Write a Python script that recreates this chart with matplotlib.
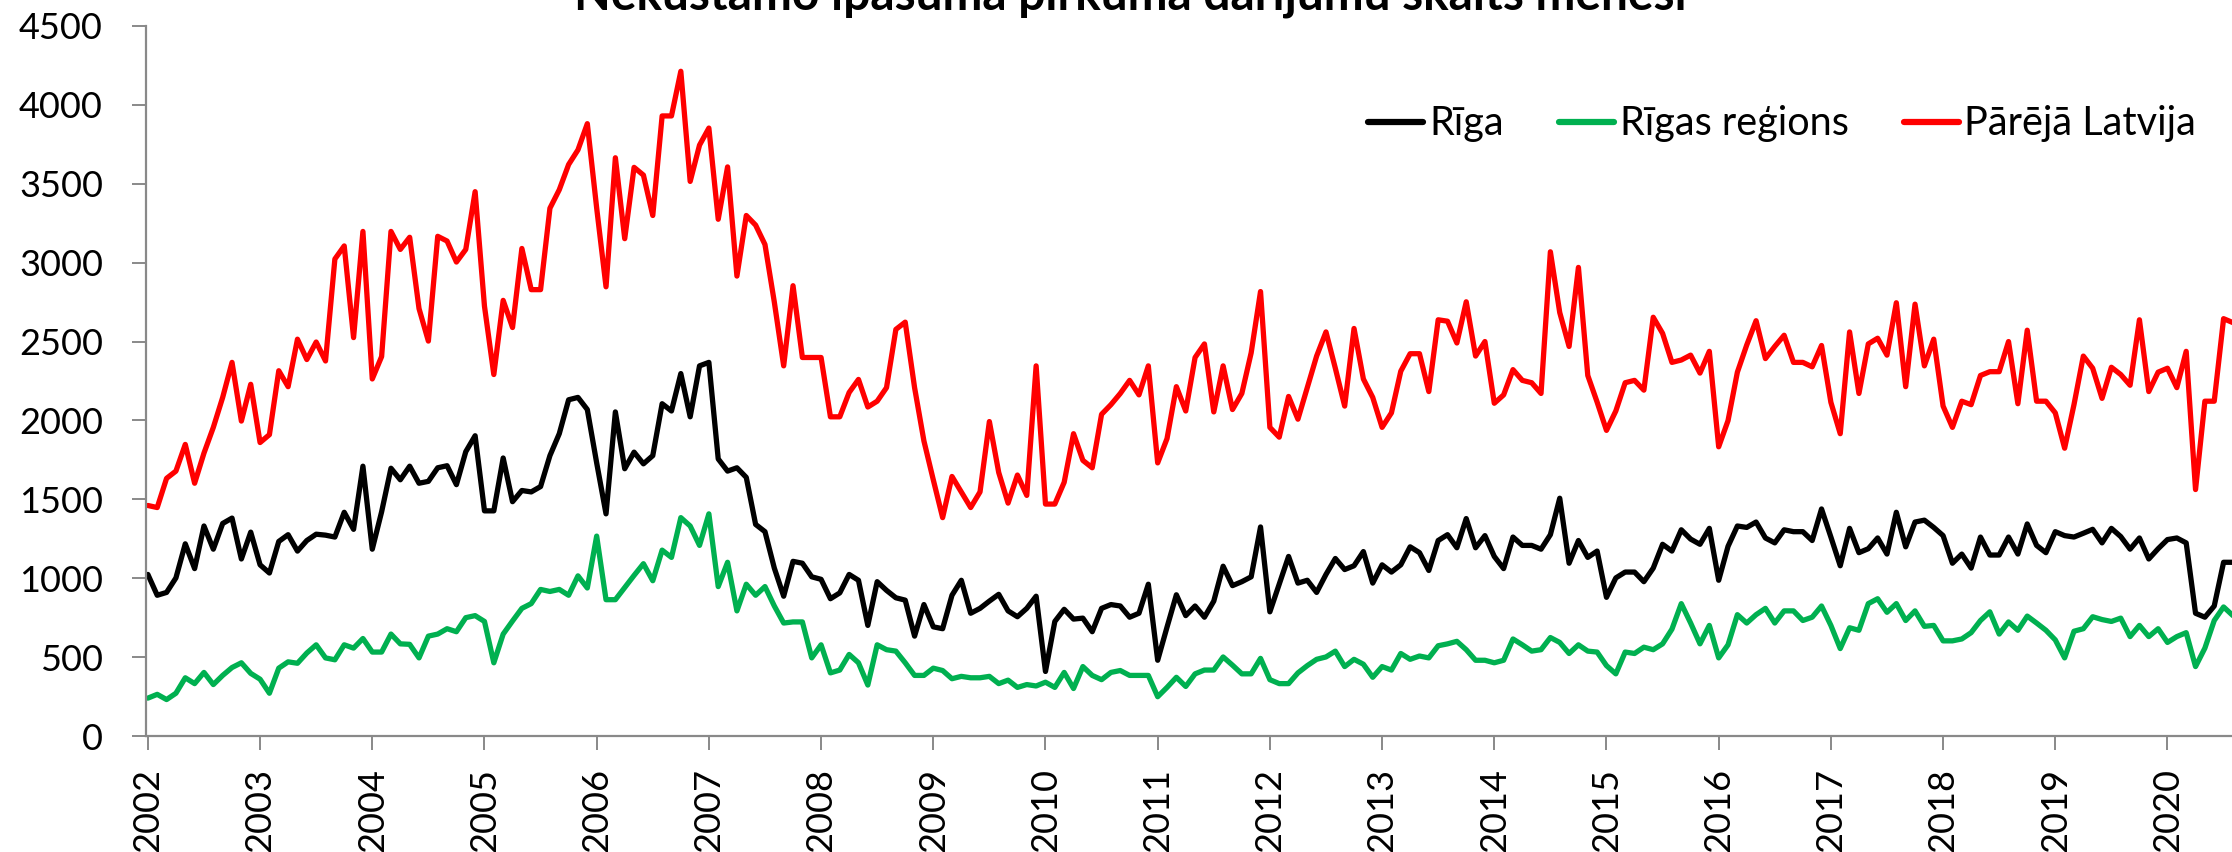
import numpy as np
import matplotlib
matplotlib.use("Agg")
import matplotlib.pyplot as plt

# ---------------- data (monthly, Jan 2002 ...) ----------------
years = [str(y) for y in range(2002, 2021)]

riga = [
    1024, 892, 910, 1002, 1218, 1061, 1331, 1184, 1347, 1381, 1122, 1292,
    1085, 1033, 1233, 1276, 1172, 1239, 1279, 1273, 1261, 1418, 1310, 1710,
    1184, 1421, 1697, 1624, 1710, 1602, 1614, 1700, 1713, 1593, 1802, 1903,
    1427, 1427, 1762, 1485, 1556, 1547, 1581, 1777, 1916, 2131, 2146, 2069,
    1731, 1408, 2054, 1694, 1799, 1725, 1777, 2106, 2060, 2297, 2023, 2346,
    2368, 1756, 1679, 1700, 1639, 1341, 1295, 1064, 886, 1107, 1095, 1009,
    993, 870, 907, 1024, 987, 701, 978, 923, 876, 861, 633, 833,
    692, 680, 892, 987, 778, 809, 855, 898, 793, 756, 809, 886,
    409, 726, 803, 741, 747, 661, 809, 833, 824, 753, 778, 962,
    480, 690, 895, 763, 824, 753, 855, 1076, 953, 978, 1009, 1325,
    787, 962, 1138, 969, 987, 910, 1024, 1125, 1055, 1079, 1169, 969,
    1085, 1039, 1085, 1199, 1162, 1049, 1239, 1276, 1193, 1378, 1193, 1270,
    1138, 1061, 1261, 1208, 1208, 1184, 1276, 1507, 1095, 1239, 1132, 1172,
    879, 1002, 1039, 1039, 978, 1064, 1215, 1172, 1307, 1248, 1215, 1316,
    987, 1202, 1331, 1322, 1356, 1255, 1224, 1307, 1295, 1295, 1239, 1439,
    1261, 1079, 1316, 1162, 1187, 1255, 1153, 1418, 1199, 1356, 1368, 1322,
    1270, 1095, 1153, 1064, 1261, 1147, 1147, 1261, 1153, 1344, 1208, 1162,
    1295, 1270, 1261, 1285, 1310, 1224, 1316, 1264, 1184, 1255, 1122, 1187,
    1245, 1255, 1224, 778, 753, 824, 1101, 1101,
]

rigas_regions = [
    240, 264, 231, 271, 369, 332, 403, 326, 384, 434, 464, 397,
    360, 271, 430, 470, 461, 526, 578, 495, 483, 578, 557, 618,
    532, 532, 646, 584, 581, 495, 633, 646, 680, 661, 750, 763,
    726, 464, 646, 729, 809, 839, 929, 916, 929, 892, 1015, 938,
    1267, 864, 864, 941, 1018, 1092, 984, 1178, 1132, 1384, 1331, 1208,
    1408, 947, 1101, 793, 962, 892, 947, 824, 716, 723, 723, 495,
    578, 400, 418, 517, 464, 323, 578, 547, 538, 464, 384, 384,
    430, 415, 363, 378, 369, 369, 378, 332, 354, 308, 326, 317,
    341, 308, 403, 301, 440, 384, 357, 403, 415, 384, 384, 384,
    249, 308, 372, 314, 394, 418, 418, 501, 449, 394, 394, 492,
    357, 332, 332, 400, 446, 486, 501, 538, 440, 486, 455, 372,
    440, 418, 523, 486, 507, 495, 572, 584, 600, 547, 480, 480,
    464, 480, 615, 578, 538, 547, 624, 593, 523, 578, 538, 532,
    446, 394, 532, 523, 563, 547, 584, 677, 839, 716, 584, 701,
    495, 578, 769, 716, 769, 809, 716, 793, 793, 732, 753, 824,
    701, 554, 686, 670, 839, 870, 784, 839, 732, 793, 695, 701,
    603, 603, 615, 655, 732, 787, 646, 723, 670, 760, 716, 670,
    609, 495, 664, 680, 756, 738, 726, 747, 630, 701, 630, 680,
    593, 630, 655, 440, 557, 732, 818, 763,
]

parejo_latvija = [
    1461, 1448, 1633, 1679, 1848, 1602, 1793, 1956, 2146, 2368, 1996, 2229,
    1860, 1910, 2315, 2214, 2515, 2386, 2497, 2377, 3023, 3106, 2525, 3198,
    2263, 2405, 3198, 3084, 3161, 2709, 2503, 3167, 3137, 3004, 3084, 3450,
    2724, 2291, 2761, 2589, 3090, 2829, 2829, 3345, 3462, 3622, 3715, 3881,
    3346, 2847, 3665, 3152, 3604, 3555, 3299, 3930, 3930, 4213, 3515, 3745,
    3853, 3275, 3607, 2915, 3299, 3238, 3115, 2750, 2346, 2854, 2399, 2399,
    2399, 2023, 2023, 2177, 2260, 2085, 2122, 2208, 2577, 2623, 2208, 1870,
    1624, 1384, 1645, 1547, 1448, 1547, 1993, 1670, 1476, 1654, 1525, 2346,
    1470, 1470, 1608, 1916, 1747, 1700, 2039, 2100, 2171, 2254, 2162, 2346,
    1731, 1885, 2214, 2060, 2399, 2485, 2054, 2346, 2069, 2171, 2429, 2817,
    1956, 1894, 2152, 2008, 2208, 2408, 2561, 2331, 2091, 2583, 2263, 2146,
    1956, 2048, 2312, 2423, 2423, 2183, 2638, 2629, 2491, 2752, 2408, 2500,
    2109, 2162, 2322, 2254, 2239, 2171, 3069, 2684, 2469, 2970, 2285, 2116,
    1937, 2060, 2239, 2254, 2192, 2654, 2552, 2368, 2383, 2414, 2300, 2438,
    1833, 1999, 2306, 2478, 2632, 2392, 2469, 2540, 2368, 2368, 2340, 2475,
    2115, 1916, 2561, 2171, 2485, 2521, 2414, 2746, 2214, 2737, 2346, 2515,
    2091, 1956, 2122, 2100, 2285, 2309, 2309, 2500, 2106, 2572, 2122, 2122,
    2048, 1824, 2100, 2408, 2331, 2140, 2337, 2291, 2223, 2638, 2183, 2306,
    2331, 2208, 2438, 1562, 2122, 2122, 2645, 2620,
]

series_names = ["Rīga", "Rīgas reģions", "Pārējā Latvija"]
series_colors = ["#000000", "#00B050", "#FF0000"]
title = "Nekustamo īpašuma pirkuma darījumu skaits mēnesī"

# ---------------- figure ----------------
plt.rcParams['font.family'] = ['Lato', 'DejaVu Sans']

W, H = 2232, 852
fig = plt.figure(figsize=(W / 100, H / 100), dpi=100)
left = 146 / W
bottom = 1 - 736 / H
top = 1 - 26 / H
ax = fig.add_axes([left, bottom, 1 - left, top - bottom])

months = np.arange(len(riga))
for vals, name, col in zip([riga, rigas_regions, parejo_latvija], series_names, series_colors):
    ax.plot(months[:len(vals)], vals, color=col, lw=3.8, label=name,
            solid_joinstyle='round', solid_capstyle='round')

ax.set_ylim(0, 4500)
ax.set_yticks(np.arange(0, 4501, 500))
ax.set_xlim(-0.2, 222.9)
ax.set_xticks(np.arange(len(years)) * 12)
ax.set_xticklabels(years, rotation=90)

axis_col = "#898989"
for s in ["top", "right"]:
    ax.spines[s].set_visible(False)
for s in ["left", "bottom"]:
    ax.spines[s].set_color(axis_col)
    ax.spines[s].set_linewidth(1.6)
ax.tick_params(axis='both', direction='out', length=10, width=1.4,
               color=axis_col, labelsize=26, labelcolor='black')
ax.tick_params(axis='y', pad=21)
ax.tick_params(axis='x', pad=13)

fig.text(1130 / W, 1 - 10 / H, title, ha='center', va='baseline',
         fontsize=34.5, fontweight='bold')

leg_fs = 28.5
fontsize_px = leg_fs * 100 / 72
leg = ax.legend(loc='center left', bbox_to_anchor=(1368 / W, 1 - 124 / H),
                bbox_transform=fig.transFigure, ncol=3, frameon=False,
                fontsize=leg_fs, handlelength=55 / fontsize_px,
                handletextpad=6 / fontsize_px, columnspacing=55 / fontsize_px,
                borderpad=0, borderaxespad=0)
for line in leg.get_lines():
    line.set_linewidth(4.5)

fig.savefig("out.png", dpi=100)
